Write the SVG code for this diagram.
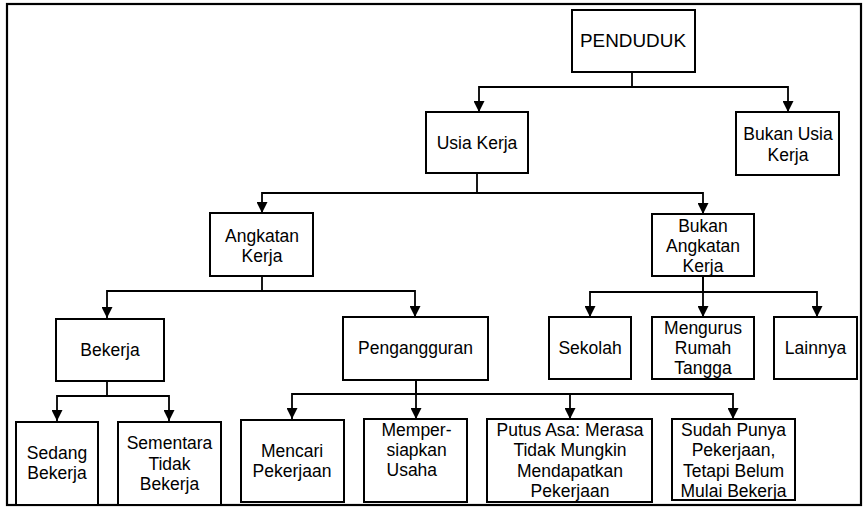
<svg xmlns="http://www.w3.org/2000/svg" width="863" height="507" viewBox="0 0 863 507">
<style>
.box{fill:#fff;stroke:#000;stroke-width:2}
.t{font-family:"Liberation Sans",Arial,sans-serif;font-size:17.5px;fill:#000;text-anchor:middle}
.tl{font-family:"Liberation Sans",Arial,sans-serif;font-size:17.5px;fill:#000}
.c{fill:none;stroke:#000;stroke-width:1.8;marker-end:url(#arr)}
</style>
<defs>
<marker id="arr" markerWidth="11" markerHeight="11" refX="11" refY="5.5" orient="auto" markerUnits="userSpaceOnUse">
<path d="M0,0 L11,5.5 L0,11 z" fill="#000"/>
</marker>
</defs>
<rect x="0" y="0" width="863" height="507" fill="#fff"/>
<rect x="7" y="4" width="854" height="501" fill="none" stroke="#000" stroke-width="2.2"/>
<g id="connectors">
<path class="c" d="M632,72 V87 H479 V112"/>
<path class="c" d="M632,87 H788 V112"/>
<path class="c" d="M477,173 V193 H262 V213"/>
<path class="c" d="M477,193 H703 V214"/>
<path class="c" d="M262,276 V291 H107 V318"/>
<path class="c" d="M262,291 H415 V317"/>
<path class="c" d="M703,276 V292 H590 V317"/>
<path class="c" d="M703,276 V317"/>
<path class="c" d="M703,292 H817 V317"/>
<path class="c" d="M107,381 V396 H57 V421"/>
<path class="c" d="M107,396 H169 V421"/>
<path class="c" d="M416,380 V394 H292 V419"/>
<path class="c" d="M416,380 V419"/>
<path class="c" d="M416,394 H570 V419"/>
<path class="c" d="M416,394 H733 V419"/>
</g>
<g id="penduduk"><rect class="box" x="572" y="10" width="123" height="62"/><text class="t" x="633" y="47" textLength="106" lengthAdjust="spacingAndGlyphs">PENDUDUK</text></g>
<g id="usia-kerja"><rect class="box" x="426" y="112" width="102" height="61"/><text class="t" x="477" y="149">Usia Kerja</text></g>
<g id="bukan-usia-kerja"><rect class="box" x="736" y="112" width="103" height="63"/><text class="t" x="788" y="140">Bukan Usia</text><text class="t" x="788" y="161">Kerja</text></g>
<g id="angkatan-kerja"><rect class="box" x="210" y="213" width="103" height="63"/><text class="t" x="262" y="242">Angkatan</text><text class="t" x="262" y="262">Kerja</text></g>
<g id="bukan-angkatan-kerja"><rect class="box" x="652" y="214" width="102" height="62"/><text class="t" x="703" y="232">Bukan</text><text class="t" x="703" y="252">Angkatan</text><text class="t" x="703" y="272">Kerja</text></g>
<g id="bekerja"><rect class="box" x="56" y="319" width="108" height="62"/><text class="t" x="110" y="356">Bekerja</text></g>
<g id="pengangguran"><rect class="box" x="343" y="317" width="145" height="63"/><text class="t" x="415.5" y="354">Pengangguran</text></g>
<g id="sekolah"><rect class="box" x="549" y="317" width="82" height="62"/><text class="t" x="590" y="354">Sekolah</text></g>
<g id="mengurus-rumah-tangga"><rect class="box" x="652" y="317" width="102" height="62"/><text class="t" x="703" y="334">Mengurus</text><text class="t" x="703" y="354">Rumah</text><text class="t" x="703" y="374">Tangga</text></g>
<g id="lainnya"><rect class="box" x="774" y="317" width="83" height="62"/><text class="t" x="815.5" y="354">Lainnya</text></g>
<g id="sedang-bekerja"><rect class="box" x="16" y="422" width="82" height="83"/><text class="t" x="57" y="459">Sedang</text><text class="t" x="57" y="479">Bekerja</text></g>
<g id="sementara-tidak-bekerja"><rect class="box" x="118" y="422" width="103" height="83"/><text class="t" x="169.5" y="449">Sementara</text><text class="t" x="169.5" y="470">Tidak</text><text class="t" x="169.5" y="490">Bekerja</text></g>
<g id="mencari-pekerjaan"><rect class="box" x="241" y="420" width="103" height="82"/><text class="t" x="292" y="457">Mencari</text><text class="t" x="292" y="477">Pekerjaan</text></g>
<g id="mempersiapkan-usaha"><rect class="box" x="364" y="419" width="103" height="83"/><text class="tl" x="381.5" y="436">Memper-</text><text class="tl" x="386.5" y="456">siapkan</text><text class="tl" x="386.5" y="476">Usaha</text></g>
<g id="putus-asa"><rect class="box" x="487" y="419" width="165" height="83"/><text class="t" x="570" y="436">Putus Asa: Merasa</text><text class="t" x="570" y="456">Tidak Mungkin</text><text class="t" x="570" y="477">Mendapatkan</text><text class="t" x="570" y="497">Pekerjaan</text></g>
<g id="sudah-punya-pekerjaan"><rect class="box" x="672" y="419" width="123" height="81"/><text class="t" x="733.5" y="436">Sudah Punya</text><text class="t" x="733.5" y="456">Pekerjaan,</text><text class="t" x="733.5" y="477">Tetapi Belum</text><text class="t" x="733.5" y="497">Mulai Bekerja</text></g>
</svg>
